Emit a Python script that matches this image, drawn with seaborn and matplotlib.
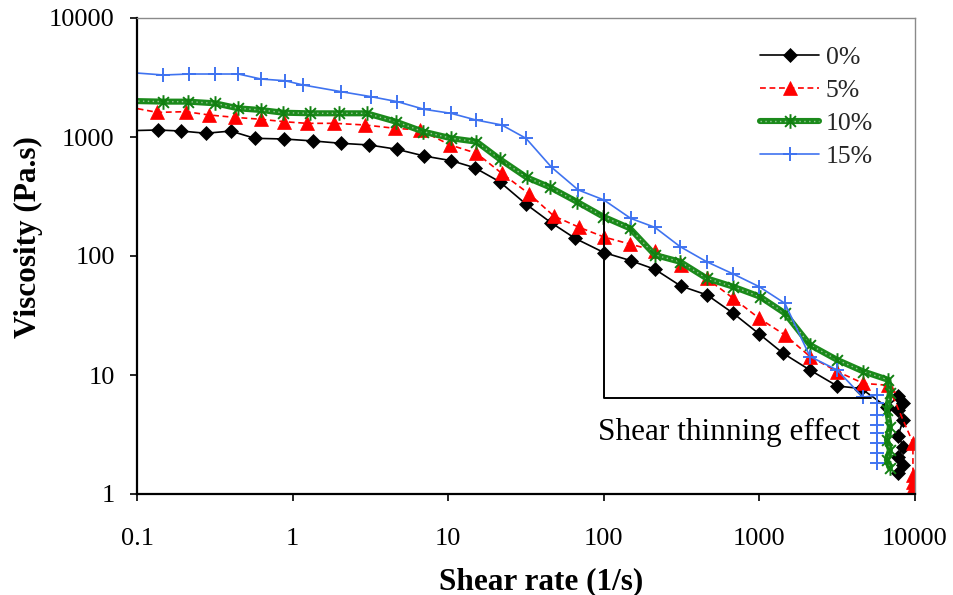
import matplotlib
matplotlib.use("Agg")
import matplotlib.pyplot as plt
import seaborn as sns
from matplotlib.path import Path
from matplotlib.ticker import FixedLocator, FixedFormatter, NullLocator

# ---------------- data ----------------
labels = ["0%", "5%", "10%", "15%"]

x0 = [0.088, 0.137, 0.193, 0.277, 0.401, 0.571, 0.885, 1.36, 2.05, 3.11, 4.67, 7.02,
      10.5, 14.8, 21.4, 31.6, 45.7, 65.2, 100, 149, 213, 312, 462, 679, 998, 1422,
      2113, 3162, 4500, 6580, 7800, 8400, 7800, 8400, 7800, 8400, 7800, 8400, 7800]
y0 = [1130, 1145, 1122, 1075, 1122, 975, 962, 926, 885, 857, 789, 692,
      632, 552, 421, 273, 191, 141, 107, 91.4, 77.3, 56, 47, 33, 22.1, 15.2,
      11.0, 8.08, 7.7, 5.4, 6.6, 5.8, 5.1, 4.2, 3.1, 2.5, 2.05, 1.75, 1.5]

x1 = [0.088, 0.135, 0.206, 0.292, 0.426, 0.627, 0.88, 1.23, 1.85, 2.92, 4.55, 6.59,
      10.3, 15.2, 22.1, 33.2, 47.7, 69.6, 101, 147, 213, 312, 458, 679, 998, 1459,
      2113, 3162, 4660, 6700, 9700, 9700, 9700, 9700]
y1 = [1790, 1610, 1632, 1530, 1462, 1409, 1345, 1303, 1303, 1262, 1183, 1145,
      857, 730, 495, 332, 217, 174, 144, 126, 111, 84, 64.9, 44.1, 29.9, 21.7,
      14.3, 10.7, 8.5, 8.2, 2.7, 1.45, 1.25, 1.12]

x2 = [0.088, 0.148, 0.213, 0.317, 0.448, 0.627, 0.87, 1.29, 2.0, 2.99, 4.61, 6.92,
      10.5, 15.2, 21.5, 31.9, 45.1, 67, 99.3, 147, 213, 309, 458, 679, 1009, 1459,
      2113, 3162, 4660, 6745, 6900, 6600, 6900, 6600, 6900, 6600, 6900]
y2 = [2010, 1982, 1982, 1920, 1741, 1686, 1600, 1582, 1582, 1582, 1345, 1109,
      975, 913, 650, 458, 378, 286, 214, 171, 102, 89.5, 64.9, 55.2, 45.5, 33,
      17.9, 13.4, 10.7, 9.1, 7.06, 5.08, 3.66, 2.84, 2.34, 1.93, 1.65]

x3 = [0.088, 0.148, 0.217, 0.317, 0.448, 0.627, 0.893, 1.17, 2.05, 3.19, 4.71, 7.0,
      10.4, 15.1, 22.1, 31.6, 46.2, 68.5, 100, 149, 213, 309, 458, 679, 998, 1459,
      2113, 3162, 4630, 5700, 5700, 5700, 5700, 5700, 5700, 5700, 5700]
y3 = [3490, 3319, 3383, 3383, 3383, 3070, 2972, 2735, 2404, 2183, 1982, 1709,
      1582, 1389, 1262, 975, 556, 359, 296, 207, 174, 120, 89.5, 70.6, 55.2, 40,
      14.3, 11, 6.5, 6.79, 5.82, 4.61, 3.80, 3.26, 2.68, 2.21, 1.82]

tick_vals = [0.1, 1, 10, 100, 1000, 10000]
xtick_labels = ["0.1", "1", "10", "100", "1000", "10000"]
ytick_vals = [1, 10, 100, 1000, 10000]
ytick_labels = ["1", "10", "100", "1000", "10000"]

# annotation bracket (shear thinning)
ann_x = [100, 100, 5200]
ann_y = [280, 6.4, 6.4]
ann_text = "Shear thinning effect"
ann_pos = (92, 3.3)

# ---------------- style ----------------
sns.set_theme(style="white")
plt.rcParams["font.family"] = ["Liberation Serif", "DejaVu Serif"]

fig = plt.figure(figsize=(9.54, 5.95), dpi=100)
ax = fig.add_axes([137 / 954, 1 - 494 / 595, (915 - 137) / 954, (494 - 18) / 595])
ax.set_xscale("log")
ax.set_yscale("log")

star = Path([(-1, -1), (1, 1), (-1, 1), (1, -1), (0, -1.35), (0, 1.35)],
            [Path.MOVETO, Path.LINETO] * 3)

green_dark = "#1b8a1b"
blue = "#3f73f0"

sns.lineplot(x=x0, y=y0, sort=False, estimator=None, ax=ax, color="black",
             linewidth=1.2, marker="D", markersize=6.8,
             markerfacecolor="black", markeredgecolor="black", markeredgewidth=0.5)
h0 = ax.lines[-1]
sns.lineplot(x=x1, y=y1, sort=False, estimator=None, ax=ax, color="#ff0000",
             linewidth=1.2, linestyle=(0, (3.5, 2.2)), marker="^", markersize=10,
             markerfacecolor="#ff0000", markeredgecolor="#ff0000", markeredgewidth=0.5)
h1 = ax.lines[-1]
sns.lineplot(x=x2, y=y2, sort=False, estimator=None, ax=ax, color=green_dark,
             linewidth=4.4, solid_capstyle="round")
h2a = ax.lines[-1]
sns.lineplot(x=x2, y=y2, sort=False, estimator=None, ax=ax, color="#9cc79c",
             linewidth=1.0, linestyle=(0, (1, 2.5)), marker=star, markersize=10.5,
             markerfacecolor="none", markeredgecolor="#118011", markeredgewidth=1.4)
h2b = ax.lines[-1]
sns.lineplot(x=x3, y=y3, sort=False, estimator=None, ax=ax, color=blue,
             linewidth=1.2, marker="+", markersize=10,
             markeredgecolor=blue, markeredgewidth=1.4)
h3 = ax.lines[-1]

# annotation
ax.plot(ann_x, ann_y, color="black", linewidth=1.4)
ax.text(ann_pos[0], ann_pos[1], ann_text, fontsize=22.5, ha="left", va="center",
        color="black")

# axes
ax.set_xlim(0.1, 10000)
ax.set_ylim(1, 10000)
ax.xaxis.set_major_locator(FixedLocator(tick_vals))
ax.xaxis.set_major_formatter(FixedFormatter(xtick_labels))
ax.yaxis.set_major_locator(FixedLocator(ytick_vals))
ax.yaxis.set_major_formatter(FixedFormatter(ytick_labels))
ax.xaxis.set_minor_locator(NullLocator())
ax.yaxis.set_minor_locator(NullLocator())
ax.tick_params(axis="both", which="major", direction="out", length=5, width=1.2,
               color="black", labelsize=19, labelcolor="black",
               bottom=True, left=True, top=False, right=False)
ax.tick_params(axis="x", pad=19.5)
ax.tick_params(axis="y", pad=11)
ax.grid(False)
ax.set_facecolor("white")

for s in ["left", "bottom"]:
    ax.spines[s].set_color("black")
    ax.spines[s].set_linewidth(1.6)
for s in ["top", "right"]:
    ax.spines[s].set_color("#8a8a8a")
    ax.spines[s].set_linewidth(1.0)

ax.set_xlabel("Shear rate (1/s)", fontsize=22.5, fontweight="bold", color="black")
ax.set_ylabel("Viscosity (Pa.s)", fontsize=22.5, fontweight="bold", color="black")
ax.xaxis.label.set_va("center")
ax.yaxis.label.set_va("center")
ax.xaxis.set_label_coords(0.52, -0.184)
ax.yaxis.set_label_coords(-0.140, 0.54)

leg = ax.legend([h0, h1, (h2a, h2b), h3], labels, frameon=False, fontsize=18.5,
                loc="upper left", bbox_to_anchor=(760 / 954, 1 - 46 / 595),
                bbox_transform=fig.transFigure, borderpad=0, borderaxespad=0,
                handlelength=2.3, handletextpad=0.25, labelspacing=0.39)

fig.savefig("out.png", dpi=100)
